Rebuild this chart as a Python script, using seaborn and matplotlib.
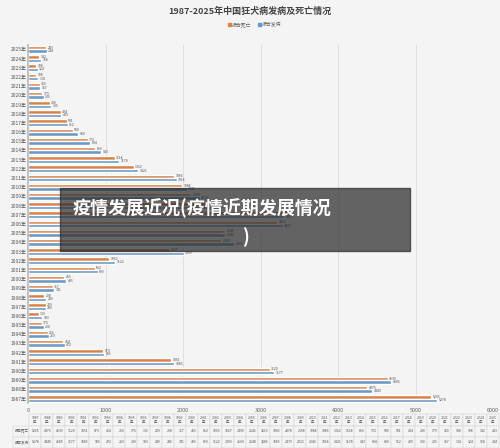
import matplotlib
matplotlib.use("Agg")
import matplotlib.pyplot as plt
import seaborn as sns
import pandas as pd
import numpy as np

years = list(range(1987, 2026))
deaths = [5205,4375,4639,3120,1851,973,454,256,176,139,229,208,317,465,862,1050,1827,2490,2545,3219,3300,2378,2108,1988,1886,1362,1118,866,772,580,501,424,280,179,150,108,108,142,233]
cases = [5278,4440,4685,3177,1885,985,472,269,200,183,230,236,341,495,899,1122,2009,2660,2548,3285,3305,2479,2215,2046,1918,1421,1178,943,804,650,512,429,300,205,157,134,124,168,244]
labels = [f"{y}年" for y in years]
series = ["报告死亡", "报告发病"]
colors = ["#ED7D31", "#5B9BD5"]

sns.set_theme(style="white")
plt.rcParams['font.family'] = ['Noto Sans CJK SC', 'DejaVu Sans']

df = pd.DataFrame({"年份": labels * 2, "值": deaths + cases,
                   "类别": [series[0]] * len(years) + [series[1]] * len(years)})
order = labels[::-1]

fig = plt.figure(figsize=(5, 4.48), dpi=100)
fig.patch.set_facecolor("#f4f4f4")
ax = fig.add_axes([0.056, 0.10, 0.93, 0.80])
ax.set_facecolor("#f4f4f4")
sns.barplot(data=df, y="年份", x="值", hue="类别", order=order, palette=colors,
            orient="h", width=0.75, ax=ax, legend=False)
for cont in ax.containers:
    ax.bar_label(cont, fontsize=2.5, padding=1, color="#555")
ax.set_xlim(0, 6000)
ax.set_xticks(range(0, 6001, 1000))
ax.tick_params(axis="x", labelsize=4, colors="#666", length=0)
ax.tick_params(axis="y", labelsize=3.5, colors="#555", length=0, pad=1)
ax.set_xlabel("")
ax.set_ylabel("")
ax.grid(axis="x", color="#dcdcdc", lw=0.6)
for s in ["top", "right", "bottom"]:
    ax.spines[s].set_visible(False)
ax.spines["left"].set_color("#bbb")

fig.text(0.5, 0.975, "1987-2025年中国狂犬病发病及死亡情况", ha="center", va="center",
         fontsize=6.5, fontweight="bold", color="#444")
for i, (s, c) in enumerate(zip(series, colors)):
    x0 = 0.455 + i * 0.06
    fig.patches.append(plt.Rectangle((x0, 0.942), 0.006, 0.007, color=c, transform=fig.transFigure))
    fig.text(x0 + 0.009, 0.945, s, fontsize=3.5, va="center", color="#666")

# data table
tab_ax = fig.add_axes([0.0, 0.0, 1.0, 0.075])
tab_ax.axis("off")
cell = [[str(v) for v in deaths], [str(v) for v in cases]]
tbl = tab_ax.table(cellText=cell, rowLabels=series, colLabels=[f"{y}\n年" for y in years],
                   bbox=[0.06, 0.0, 0.94, 1.0])
tbl.auto_set_font_size(False)
tbl.set_fontsize(2.5)
for k, c in tbl.get_celld().items():
    c.set_edgecolor("#cccccc")
    c.set_facecolor("#f4f4f4")
    c.set_linewidth(0.3)
    c.get_text().set_color("#555")

# overlay banner
fig.patches.append(plt.Rectangle((0.12, 0.44), 0.70, 0.14, color="#2b2b2b", alpha=0.72,
                                 transform=fig.transFigure))
fig.text(0.145, 0.535, "疫情发展近况(疫情近期发展情况", fontsize=13, fontweight="bold",
         color="white", va="center")
fig.text(0.485, 0.47, ")", fontsize=13, fontweight="bold", color="white", va="center")

fig.savefig("out.png", dpi=100, facecolor=fig.get_facecolor())
